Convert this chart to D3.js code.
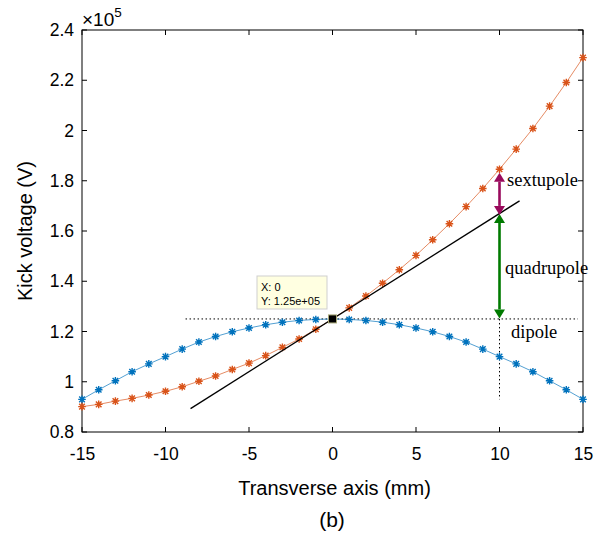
<!DOCTYPE html>
<html><head><meta charset="utf-8">
<script src="https://cdn.jsdelivr.net/npm/d3@7"></script>
<style>body{margin:0;background:#fff}svg{display:block}</style>
</head><body>
<svg id="c" width="610" height="533"></svg>
<script>
// ----- data (values in units of 1e5 V) -----
const xs = [-15,-14,-13,-12,-11,-10,-9,-8,-7,-6,-5,-4,-3,-2,-1,0,1,2,3,4,5,6,7,8,9,10,11,12,13,14,15];
const blueVals = [0.930,0.968,1.004,1.040,1.071,1.100,1.130,1.158,1.180,1.199,1.214,1.227,1.237,1.244,1.248,1.250,
                  1.248,1.244,1.237,1.227,1.214,1.199,1.180,1.158,1.130,1.100,1.071,1.040,1.004,0.968,0.930];
const orangeVals = [0.901,0.910,0.923,0.934,0.947,0.962,0.980,1.002,1.023,1.049,1.074,1.104,1.137,1.170,1.209,1.250,
                    1.294,1.341,1.392,1.446,1.503,1.565,1.629,1.697,1.769,1.846,1.926,2.008,2.097,2.191,2.290];
const tangentLine = [[-8.5,0.893],[11.2,1.720]];
const dipoleH = [[-8.8,1.25],[14.7,1.25]];
const dipoleV = [[10,1.25],[10,0.93]];
const quadArrow = [[10,1.252],[10,1.668]];
const sextArrow = [[10,1.664],[10,1.832]];
const xTicks = [-15,-10,-5,0,5,10,15];
const xTickLabels = ["-15","-10","-5","0","5","10","15"];
const yTicks = [0.8,1,1.2,1.4,1.6,1.8,2,2.2,2.4];
const yTickLabels = ["0.8","1","1.2","1.4","1.6","1.8","2","2.2","2.4"];
const annotations = [{t:"sextupole",x:10.45,y:1.779},{t:"quadrupole",x:10.33,y:1.429},{t:"dipole",x:10.69,y:1.174}];

const svg = d3.select("#c");
const L=82,R=583,T=30,B=432;
const x = d3.scaleLinear().domain([-15,15]).range([L,R]);
const y = d3.scaleLinear().domain([0.8,2.4]).range([B,T]);
const font = "'Liberation Sans', Arial, Helvetica, sans-serif";
const serif = "'Liberation Serif','Times New Roman',serif";
const blue="#0072BD", orange="#D95319";

// axes box
const g = svg.append("g");
g.append("rect").attr("x",L).attr("y",T).attr("width",R-L).attr("height",B-T)
 .attr("fill","none").attr("stroke","#000").attr("stroke-width",1);

const tl=5;
const axB = d3.axisBottom(x).tickValues(xTicks).tickSize(0).tickPadding(16).tickFormat((d,i)=>xTickLabels[i]);
const axL = d3.axisLeft(y).tickValues(yTicks).tickSize(0).tickPadding(8).tickFormat((d,i)=>yTickLabels[i]);
const gb=g.append("g").attr("transform",`translate(0,${B})`).call(axB);
const gl=g.append("g").attr("transform",`translate(${L},0)`).call(axL);
[gb,gl].forEach(a=>{a.select(".domain").remove();a.selectAll("text").attr("font-family",font).attr("font-size",17.5).attr("fill","#000");});
// inner ticks
xTicks.forEach(v=>{
  g.append("line").attr("x1",x(v)).attr("x2",x(v)).attr("y1",B).attr("y2",B-tl).attr("stroke","#000");
  g.append("line").attr("x1",x(v)).attr("x2",x(v)).attr("y1",T).attr("y2",T+tl).attr("stroke","#000");
});
yTicks.forEach(v=>{
  g.append("line").attr("x1",L).attr("x2",L+tl).attr("y1",y(v)).attr("y2",y(v)).attr("stroke","#000");
  g.append("line").attr("x1",R).attr("x2",R-tl).attr("y1",y(v)).attr("y2",y(v)).attr("stroke","#000");
});

// exponent
const ex = svg.append("text").attr("x",L).attr("y",26).attr("font-family",font).attr("font-size",19);
ex.append("tspan").text("\u00d710");
ex.append("tspan").attr("dy",-9).attr("font-size",13.5).text("5");

// labels
svg.append("text").attr("transform",`translate(32,${(T+B)/2}) rotate(-90)`).attr("text-anchor","middle")
 .attr("font-family",font).attr("font-size",20).text("Kick voltage (V)");
svg.append("text").attr("x",334.5).attr("y",495).attr("text-anchor","middle")
 .attr("font-family",font).attr("font-size",20).text("Transverse axis (mm)");
svg.append("text").attr("x",332).attr("y",527).attr("text-anchor","middle")
 .attr("font-family",font).attr("font-size",21).text("(b)");

const line = d3.line().x(d=>x(d[0])).y(d=>y(d[1]));

// dotted dipole lines
svg.append("path").attr("d",line(dipoleH)).attr("stroke","#000").attr("stroke-width",1).attr("stroke-dasharray","1.5,2.5").attr("fill","none");
svg.append("path").attr("d",line(dipoleV)).attr("stroke","#000").attr("stroke-width",1).attr("stroke-dasharray","1.5,2.5").attr("fill","none");

// series
function series(vals,color){
  const pts = xs.map((v,i)=>[v,vals[i]]);
  svg.append("path").attr("d",line(pts)).attr("stroke",color).attr("stroke-width",0.8).attr("fill","none").attr("opacity",0.85);
  const s=3.8, d=2.8;
  svg.append("g").selectAll("path").data(pts).join("path")
   .attr("d",p=>{const cx=x(p[0]),cy=y(p[1]);
     return `M${cx-s},${cy}H${cx+s}M${cx},${cy-s}V${cy+s}M${cx-d},${cy-d}L${cx+d},${cy+d}M${cx-d},${cy+d}L${cx+d},${cy-d}`;})
   .attr("stroke",color).attr("stroke-width",1.4).attr("fill","none");
}
series(blueVals,blue);
series(orangeVals,orange);

// tangent
svg.append("path").attr("d",line(tangentLine)).attr("stroke","#000").attr("stroke-width",1.3).attr("fill","none");

// arrows
function arrow(seg,color){
  const x0=x(seg[0][0]), yb=y(seg[0][1]), yt=y(seg[1][1]), h=9, w=5.5;
  svg.append("line").attr("x1",x0).attr("x2",x0).attr("y1",yb-h).attr("y2",yt+h).attr("stroke",color).attr("stroke-width",2.6);
  svg.append("path").attr("d",`M${x0},${yt}L${x0-w},${yt+h}L${x0+w},${yt+h}Z`).attr("fill",color);
  svg.append("path").attr("d",`M${x0},${yb}L${x0-w},${yb-h}L${x0+w},${yb-h}Z`).attr("fill",color);
}
arrow(quadArrow,"#007a00");
arrow(sextArrow,"#990a5c");

annotations.forEach(a=>{
  svg.append("text").attr("x",x(a.x)).attr("y",y(a.y)).attr("font-family",serif)
   .attr("font-size",18.5).text(a.t);
});

// data tip
svg.append("rect").attr("x",x(0)-4).attr("y",y(1.25)-4).attr("width",8).attr("height",8)
 .attr("fill","#000").attr("stroke","#a8a878").attr("stroke-width",1);
const tip = svg.append("g");
tip.append("rect").attr("x",257).attr("y",276).attr("width",70).attr("height",33)
 .attr("fill","#ffffe1").attr("stroke","#cfcfcf").attr("stroke-width",1);
tip.append("text").attr("x",261).attr("y",291).attr("font-family",font).attr("font-size",11).text("X: 0");
tip.append("text").attr("x",261).attr("y",305).attr("font-family",font).attr("font-size",11).text("Y: 1.25e+05");
</script>
</body></html>
